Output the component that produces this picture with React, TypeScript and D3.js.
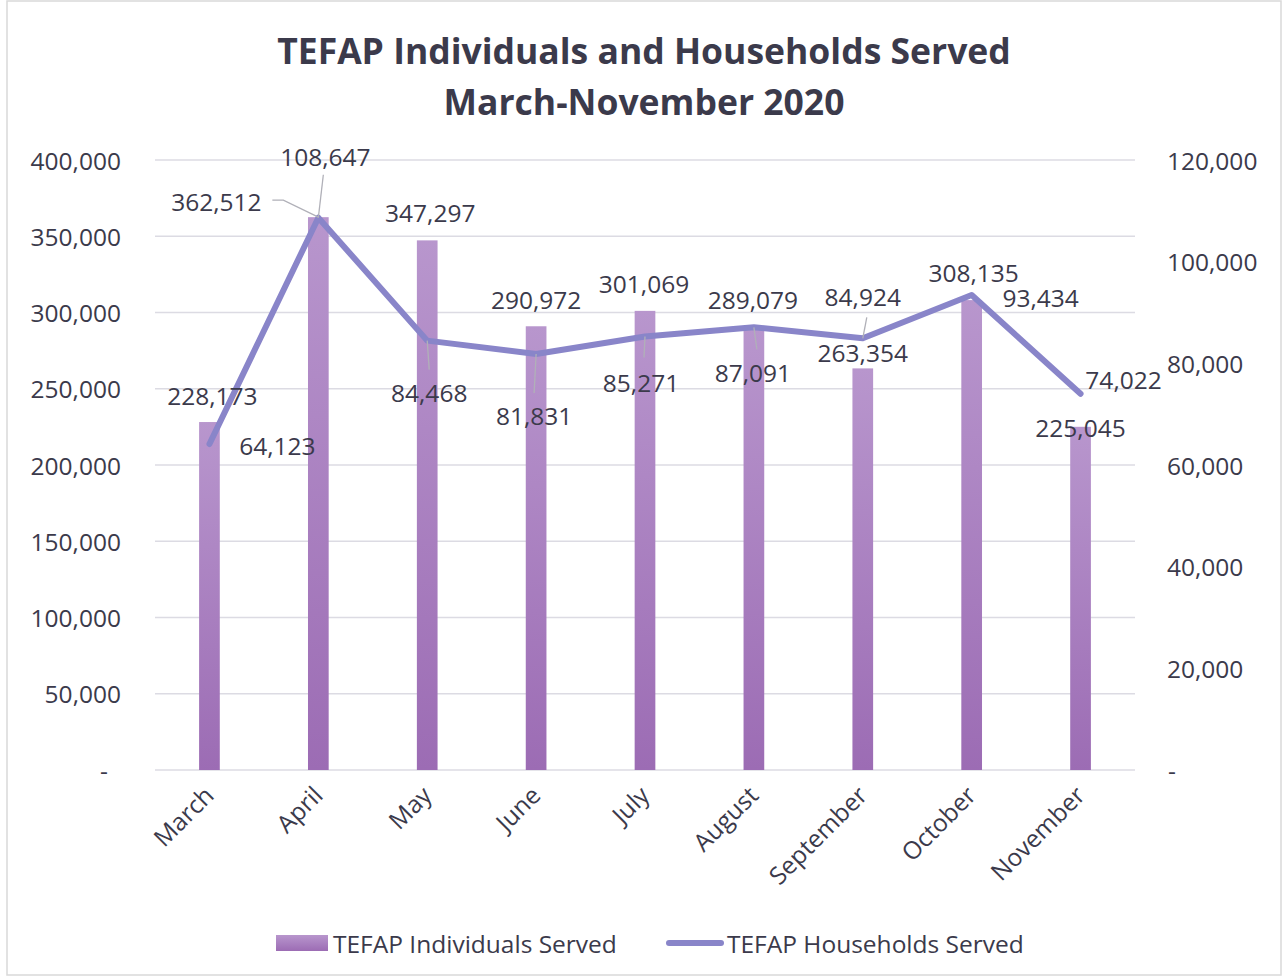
import * as d3 from 'd3';
import { useEffect } from 'react';

// chart data
const months = ['March', 'April', 'May', 'June', 'July', 'August', 'September', 'October', 'November'];
const individuals = [228173, 362512, 347297, 290972, 301069, 289079, 263354, 308135, 225045];
const households = [64123, 108647, 84468, 81831, 85271, 87091, 84924, 93434, 74022];
const leftTicks = [0, 50000, 100000, 150000, 200000, 250000, 300000, 350000, 400000];
const rightTicks = [0, 20000, 40000, 60000, 80000, 100000, 120000];

// label placement (offset from the mark), plus optional leader line points relative to the label
const barLabelPos: { dx: number; dy: number; leader?: number[][] }[] = [
  { dx: 3, dy: -27 },
  { dx: -102, dy: -16, leader: [[56, -1], [67, -1]] },
  { dx: 3, dy: -28 },
  { dx: 0, dy: -27 },
  { dx: -1, dy: -27 },
  { dx: -1, dy: -30 },
  { dx: 0, dy: -16 },
  { dx: 2, dy: -28 },
  { dx: 0, dy: 1 },
];
const lineLabelPos: { dx: number; dy: number; leader?: number[] }[] = [
  { dx: 68, dy: 1 },
  { dx: 7, dy: -61, leader: [-2, 18] },
  { dx: 2, dy: 52, leader: [0, -23] },
  { dx: -2, dy: 61, leader: [0, -22] },
  { dx: -4, dy: 46, leader: [3, -25] },
  { dx: -1, dy: 45, leader: [4, -23] },
  { dx: 0, dy: -42, leader: [4, 21] },
  { dx: 69, dy: 2 },
  { dx: 43, dy: -14 },
];

const font = '"Open Sans", "Noto Sans", sans-serif';
const textColor = '#3b3a4b';
const lineColor = '#8985c9';
const gridColor = '#dcdbe3';

export default function App() {
  useEffect(() => {
    document.body.style.margin = '0';
  }, []);

  const width = 1284;
  const height = 978;
  const plot = { left: 155, right: 1135, top: 160, bottom: 770 };

  const x = d3.scaleBand().domain(months).range([plot.left, plot.right]);
  const yL = d3.scaleLinear().domain([0, 400000]).range([plot.bottom, plot.top]);
  const yR = d3.scaleLinear().domain([0, 120000]).range([plot.bottom, plot.top]);
  const fmt = d3.format(',');
  const tickFmt = (v: number) => (v === 0 ? '-' : fmt(v));

  const barW = x.bandwidth() * 0.19;
  const cx = (m: string) => (x(m) ?? 0) + x.bandwidth() / 2;

  const line = d3
    .line<number>()
    .x((_, i) => cx(months[i]))
    .y((d) => yR(d));

  return (
    <svg width={width} height={height} style={{ display: 'block', background: '#fff' }}>
      <defs>
        <linearGradient id="barGrad" x1="0" y1="0" x2="0" y2="1">
          <stop offset="0%" stopColor="#b896cd" />
          <stop offset="100%" stopColor="#9c6cb4" />
        </linearGradient>
      </defs>
      <rect x={7} y={1} width={1274} height={974} fill="#fff" stroke="#d9d9d9" strokeWidth={1.5} />

      {/* title */}
      <text x={644} y={50} textAnchor="middle" dominantBaseline="central" fontFamily={font}
        fontWeight={700} fontSize={35.5} fill={textColor}>
        TEFAP Individuals and Households Served
      </text>
      <text x={644} y={101} textAnchor="middle" dominantBaseline="central" fontFamily={font}
        fontWeight={700} fontSize={35.5} fill={textColor}>
        March-November 2020
      </text>

      {/* gridlines */}
      {leftTicks.map((t) => (
        <line key={t} x1={plot.left} x2={plot.right} y1={yL(t)} y2={yL(t)} stroke={gridColor} strokeWidth={1.5} />
      ))}

      {/* left axis labels */}
      {leftTicks.map((t) => (
        <text key={'l' + t} x={t === 0 ? 108 : 121} y={yL(t)} textAnchor="end" dominantBaseline="central"
          fontFamily={font} fontSize={24.5} fill={textColor}>
          {tickFmt(t)}
        </text>
      ))}
      {/* right axis labels */}
      {rightTicks.map((t) => (
        <text key={'r' + t} x={t === 0 ? 1168 : 1167} y={yR(t)} textAnchor="start" dominantBaseline="central"
          fontFamily={font} fontSize={24.5} fill={textColor}>
          {tickFmt(t)}
        </text>
      ))}

      {/* bars */}
      {individuals.map((v, i) => (
        <rect key={'b' + i} x={cx(months[i]) - barW / 2} y={yL(v)} width={barW} height={yL(0) - yL(v)}
          fill="url(#barGrad)" />
      ))}

      {/* households line */}
      <path d={line(households) ?? ''} fill="none" stroke={lineColor} strokeWidth={6}
        strokeLinejoin="round" strokeLinecap="round" />

      {/* leader lines */}
      {barLabelPos.map((p, i) => {
        if (!p.leader) return null;
        const ax = cx(months[i]);
        const ay = yL(individuals[i]);
        const lx = ax + p.dx;
        const ly = ay + p.dy;
        const pts = p.leader.map((q) => [lx + q[0], ly + q[1]]).concat([[ax, ay]]);
        return (
          <polyline key={'bl' + i} points={pts.map((q) => q.join(',')).join(' ')} fill="none"
            stroke="#b0b0b8" strokeWidth={1.3} />
        );
      })}
      {lineLabelPos.map((p, i) => {
        if (!p.leader) return null;
        const ax = cx(months[i]);
        const ay = yR(households[i]);
        const lx = ax + p.dx + p.leader[0];
        const ly = ay + p.dy + p.leader[1];
        return <line key={'ll' + i} x1={lx} y1={ly} x2={ax} y2={ay} stroke="#b0b0b8" strokeWidth={1.3} />;
      })}

      {/* bar labels */}
      {individuals.map((v, i) => (
        <text key={'bt' + i} x={cx(months[i]) + barLabelPos[i].dx} y={yL(v) + barLabelPos[i].dy}
          textAnchor="middle" dominantBaseline="central" fontFamily={font} fontSize={24.5} fill={textColor}>
          {fmt(v)}
        </text>
      ))}
      {/* line labels */}
      {households.map((v, i) => (
        <text key={'lt' + i} x={cx(months[i]) + lineLabelPos[i].dx} y={yR(v) + lineLabelPos[i].dy}
          textAnchor="middle" dominantBaseline="central" fontFamily={font} fontSize={24.5} fill={textColor}>
          {fmt(v)}
        </text>
      ))}

      {/* category labels */}
      {months.map((m) => (
        <text key={'x' + m} transform={`translate(${cx(m) + 6},${plot.bottom + 27}) rotate(-45)`}
          textAnchor="end" fontFamily={font} fontSize={24.5} fill={textColor}>
          {m}
        </text>
      ))}

      {/* legend */}
      <rect x={276} y={935} width={52} height={16} fill="url(#barGrad)" />
      <text x={333} y={943} dominantBaseline="central" fontFamily={font} fontSize={24.5} fill={textColor}>
        TEFAP Individuals Served
      </text>
      <line x1={669} x2={721} y1={943} y2={943} stroke={lineColor} strokeWidth={6} strokeLinecap="round" />
      <text x={727} y={943} dominantBaseline="central" fontFamily={font} fontSize={24.5} fill={textColor}>
        TEFAP Households Served
      </text>
    </svg>
  );
}
